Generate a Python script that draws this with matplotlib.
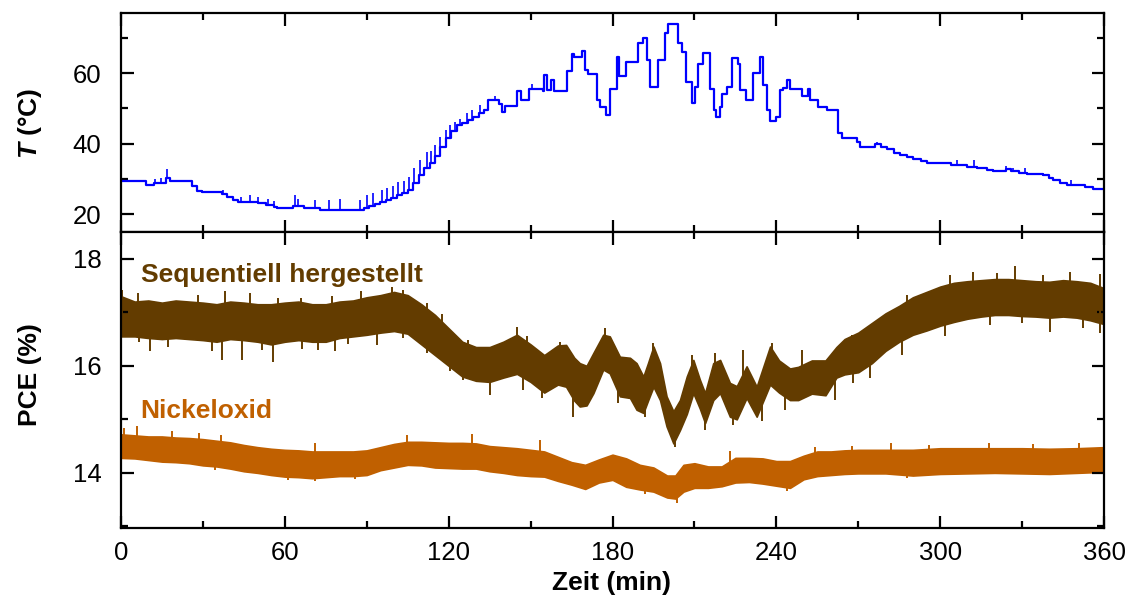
import numpy as np
import matplotlib
matplotlib.use("Agg")
import matplotlib.pyplot as plt
from matplotlib.ticker import MultipleLocator

plt.rcParams['font.family'] = ['Liberation Sans', 'DejaVu Sans']
plt.rcParams['mathtext.fontset'] = 'custom'
plt.rcParams['mathtext.bfit'] = 'Liberation Sans:italic:bold'
plt.rcParams['mathtext.bf'] = 'Liberation Sans:bold'

# ---- temperature trace (stepped, minutes / °C) ----
temp_time = [0, 9, 12, 16.5, 18, 24, 26, 28, 29.5, 37, 39, 41, 43, 50, 53, 56, 57,
             63, 67, 73, 87, 89, 91, 93, 95, 97, 99, 101, 103, 105, 107, 109, 111,
             113, 115, 117, 119, 121, 123, 125, 127, 129, 131, 133, 134.5, 138.5,
             139.5, 140.5, 145, 146.5, 149.5, 154.5, 155, 156, 157.5, 158.5, 163.5,
             165, 166, 169, 170, 171, 174.5, 175.5, 177.5, 179, 181.5, 182.5, 185,
             189.3, 191, 192.5, 193.7, 196.7, 199.2, 200.3, 204, 205.3, 207, 209,
             210.2, 211.3, 213, 215.7, 217, 218, 219.4, 220, 221.8, 223.6, 226,
             226.7, 229, 231.5, 234, 235.2, 236.5, 237.7, 240, 241.3, 242.5, 243.8,
             245, 249.3, 251.7, 252.3, 255.4, 258.4, 262.5, 264, 269.4, 270.6, 276,
             278.5, 280.4, 283, 285.3, 288, 290, 293, 295, 300, 304, 307, 310,
             313.4, 317, 319.5, 324, 326, 329, 331.7, 335, 337.8, 340, 341.4, 344,
             346.3, 351.2, 353, 356, 360]
temp_value = [29.5, 28.3, 28.9, 30.4, 29.4, 29.4, 28.0, 26.6, 26.2, 25.8, 24.8, 24.0,
              23.4, 23.2, 22.6, 22.0, 21.7, 22.3, 21.8, 21.1, 21.1, 21.8, 22.4, 23.0,
              23.5, 24.0, 24.6, 25.4, 26.0, 27.0, 29.0, 31.0, 33.0, 34.4, 36.5, 39.0,
              41.5, 43.5, 45.2, 46.0, 46.7, 47.5, 48.8, 49.5, 52.3, 51.3, 49.0, 50.8,
              55.0, 52.5, 55.5, 55.0, 59.5, 55.3, 58.0, 55.0, 60.5, 65.5, 64.5, 66.3,
              60.8, 59.8, 52.5, 50.5, 48.0, 55.5, 64.5, 59.2, 63.2, 68.4, 69.8, 63.7,
              56.1, 63.7, 71.3, 74.0, 68.4, 66.0, 57.5, 51.4, 56.0, 62.7, 65.6, 55.6,
              49.5, 47.6, 50.4, 54.2, 56.0, 64.2, 62.7, 55.2, 52.3, 59.9, 64.6, 56.6,
              49.5, 46.5, 47.5, 55.2, 55.7, 58.0, 55.5, 53.5, 55.5, 52.5, 50.5, 49.5,
              43.0, 41.5, 40.5, 39.2, 39.8, 39.0, 38.6, 37.5, 36.7, 36.2, 35.8, 35.2,
              34.6, 34.4, 34.1, 33.9, 33.5, 33.0, 32.6, 32.3, 32.9, 32.2, 31.7, 31.5,
              31.3, 31.0, 30.4, 29.6, 28.8, 28.2, 28.2, 27.7, 27.1, 27.1]

# short heater overshoot spikes (time, peak °C)
spike_time = [12.5, 14.8, 16.8, 37.5, 44, 47.2, 50.3, 54, 56, 63.7, 65, 71, 76, 80.2,
              87.5, 90, 92.4, 95.5, 97.3, 99.7, 101.6, 103.5, 105.5, 107.2, 109.5,
              112, 113.5, 115, 117, 119, 120.5, 122.3, 124.2, 126.6, 128.5, 131.5,
              137, 150.5, 277, 306, 312.5, 324, 326.5, 331, 342.5, 348]
spike_peak = [30.0, 30.3, 32.8, 26.8, 25.0, 25.4, 24.8, 24.3, 23.8, 25.4, 24.4, 24.0,
              24.1, 24.4, 24.1, 25.5, 26.0, 26.8, 27.4, 28.0, 29.2, 29.5, 30.5, 33.0,
              35.3, 37.7, 38.0, 39.6, 41.9, 43.8, 45.2, 46.2, 47.1, 48.6, 49.5, 50.9,
              53.5, 57.0, 40.5, 35.3, 35.5, 33.6, 33.2, 33.2, 30.0, 29.8]

# ---- PCE (%) band of the two devices, upper / lower edge over time ----
seq_time = [0, 5, 10, 15, 20, 25, 30, 35, 40, 45, 50, 55, 60, 65, 70, 75, 80, 85, 90,
            95, 100, 105, 110, 115, 120, 125, 130, 135, 140, 145, 150, 155, 160, 163,
            166, 168, 170.5, 173, 176.6, 179, 182.7, 186.4, 188.8, 191.3, 193, 195,
            197.4, 199.8, 202.3, 204.7, 207.2, 209.6, 212, 213.9, 216.9, 219.4, 223,
            225.5, 229.1, 232.8, 237.7, 241, 245, 248, 253, 258, 262, 265,
            270, 275, 280, 285, 290, 295, 300, 305, 310, 315, 320, 325, 330, 335, 340,
            345, 350, 355, 360]
seq_upper = [17.30, 17.20, 17.22, 17.18, 17.22, 17.20, 17.18, 17.15, 17.20, 17.18,
             17.15, 17.15, 17.18, 17.20, 17.15, 17.15, 17.20, 17.22, 17.28, 17.32,
             17.38, 17.32, 17.15, 16.95, 16.70, 16.45, 16.35, 16.35, 16.45, 16.58,
             16.40, 16.20, 16.38, 16.39, 16.15, 16.05, 16.00, 16.24, 16.58, 16.55,
             16.17, 16.15, 16.05, 15.80, 16.05, 16.36, 16.05, 15.43, 15.15, 15.36,
             15.80, 16.11, 15.74, 15.49, 16.05, 16.11, 15.68, 15.62, 15.99, 15.61,
             16.36, 16.10, 15.95, 15.98, 16.10, 16.10, 16.35,
             16.50, 16.62, 16.80, 16.98, 17.12, 17.28, 17.38, 17.48, 17.55, 17.58,
             17.60, 17.62, 17.62, 17.60, 17.58, 17.57, 17.60, 17.58, 17.55, 17.45]
seq_lower = [16.55, 16.55, 16.52, 16.50, 16.52, 16.50, 16.48, 16.45, 16.50, 16.48,
             16.45, 16.40, 16.45, 16.48, 16.45, 16.45, 16.52, 16.55, 16.58, 16.62,
             16.65, 16.60, 16.40, 16.20, 16.00, 15.80, 15.72, 15.70, 15.78, 15.85,
             15.70, 15.50, 15.65, 15.61, 15.35, 15.24, 15.26, 15.49, 15.93, 15.86,
             15.43, 15.40, 15.18, 15.12, 15.35, 15.61, 15.36, 14.87, 14.55, 14.80,
             15.10, 15.49, 15.20, 14.93, 15.36, 15.49, 15.05, 15.00, 15.40, 15.05,
             15.65, 15.50, 15.36, 15.36, 15.48, 15.45, 15.78,
             15.84, 15.88, 16.05, 16.28, 16.45, 16.58, 16.66, 16.75, 16.82, 16.88,
             16.92, 16.95, 16.95, 16.93, 16.92, 16.90, 16.92, 16.90, 16.85, 16.78]
# isolated excursions beyond the dense band (time, PCE)
seq_spike_time = [0.2, 6.3, 28.3, 38, 47.2, 57.6, 66, 77.2, 88, 99.1, 103.4, 112,
                  117.4, 127.2, 144.9, 148.6, 160.8, 177.3, 195, 209, 217.5, 227.9,
                  238.3, 249.3, 267.6, 287.7, 303.6, 312.1, 320.7, 327.4, 337.8,
                  347.5, 358.5,
                  6.5, 10.6, 17.3, 33.2, 36.9, 44.2, 51.5, 55.8, 66.2, 72.3, 78.4,
                  83.2, 93.6, 103.4, 112, 120.5, 125.4, 135.1, 147.3, 154, 165.7,
                  170.5, 182.1, 191.9, 202.9, 213.9, 224.2, 234.6, 243.2, 261.5,
                  268.2, 274.3, 285.9, 301.8, 318.2, 329.9, 340.2, 352.4, 358.5]
seq_spike_value = [17.42, 17.36, 17.33, 17.39, 17.36, 17.27, 17.27, 17.30, 17.39,
                   17.47, 17.42, 17.17, 16.96, 16.49, 16.73, 16.55, 16.45, 16.70,
                   16.42, 16.20, 16.24, 16.30, 16.42, 16.30, 16.58, 17.33, 17.70,
                   17.76, 17.74, 17.86, 17.70, 17.76, 17.72,
                   16.45, 16.27, 16.36, 16.27, 16.11, 16.11, 16.30, 16.08, 16.32,
                   16.30, 16.27, 16.40, 16.39, 16.52, 16.24, 15.90, 15.74, 15.46,
                   15.55, 15.40, 15.05, 15.24, 15.30, 15.05, 14.49, 14.80, 14.90,
                   14.96, 15.18, 15.36, 15.68, 15.77, 16.21, 16.55, 16.77, 16.80,
                   16.64, 16.70, 16.61]

nio_time = [0, 5, 10, 15, 20, 25, 30, 35, 40, 45, 50, 55, 60, 65, 70, 75, 80, 85, 90,
            95, 100, 105, 110, 115, 120, 125, 130, 135, 140, 145, 150, 155, 160, 165,
            170, 175, 180, 185, 190, 195, 200, 203, 206, 210, 215, 220, 225, 230, 235,
            240, 245, 250, 255, 260, 265, 270, 280, 290, 300, 310, 320, 330, 340, 350,
            360]
nio_upper = [14.72, 14.70, 14.68, 14.68, 14.66, 14.65, 14.63, 14.60, 14.57, 14.52,
             14.48, 14.45, 14.43, 14.42, 14.40, 14.40, 14.40, 14.40, 14.42, 14.48,
             14.54, 14.58, 14.58, 14.57, 14.56, 14.56, 14.55, 14.50, 14.48, 14.46,
             14.43, 14.40, 14.30, 14.20, 14.15, 14.25, 14.34, 14.27, 14.15, 14.10,
             13.95, 13.95, 14.15, 14.18, 14.12, 14.12, 14.28, 14.28, 14.27, 14.22,
             14.22, 14.32, 14.40, 14.40, 14.42, 14.43, 14.43, 14.43, 14.46, 14.46,
             14.46, 14.46, 14.45, 14.46, 14.48]
nio_lower = [14.28, 14.27, 14.24, 14.21, 14.20, 14.18, 14.14, 14.12, 14.08, 14.03,
             14.00, 13.96, 13.93, 13.92, 13.90, 13.92, 13.94, 13.94, 13.96, 14.05,
             14.10, 14.15, 14.14, 14.10, 14.09, 14.08, 14.08, 14.03, 14.00, 13.96,
             13.94, 13.93, 13.85, 13.78, 13.70, 13.82, 13.87, 13.74, 13.69, 13.65,
             13.54, 13.52, 13.65, 13.72, 13.72, 13.75, 13.82, 13.83, 13.80, 13.76,
             13.72, 13.88, 13.94, 13.96, 13.98, 13.99, 13.99, 13.95, 13.98, 13.99,
             14.00, 13.99, 13.98, 14.00, 14.02]
nio_spike_time = [1, 5.7, 18.6, 28.7, 36.6, 71, 104.6, 128.4, 153.5, 223, 254.2,
                  267.6, 282, 296, 318, 334, 351,
                  34.4, 61.3, 71, 85.7, 191.9, 203.5, 244, 288]
nio_spike_value = [14.84, 14.87, 14.78, 14.74, 14.70, 14.55, 14.70, 14.73, 14.62,
                   14.40, 14.48, 14.50, 14.55, 14.52, 14.55, 14.53, 14.56,
                   14.06, 13.87, 13.85, 13.88, 13.61, 13.43, 13.66, 13.90]

BLUE = '#0000FF'
BROWN = '#633C00'
ORANGE = '#C06000'

fig = plt.figure(figsize=(11.28, 6.01), dpi=100)
left, right = 121 / 1128, 1104 / 1128
y_top, y_mid, y_bot = 1 - 13 / 601, 1 - 232 / 601, 1 - 528 / 601
ax_t = fig.add_axes([left, y_mid, right - left, y_top - y_mid])
ax_p = fig.add_axes([left, y_bot, right - left, y_mid - y_bot], sharex=ax_t)

# temperature
ax_t.step(temp_time, temp_value, where='post', color=BLUE, lw=1.6)
tt = np.asarray(temp_time)
tv = np.asarray(temp_value)
base = tv[np.searchsorted(tt, spike_time, side='right') - 1]
ax_t.vlines(spike_time, base, spike_peak, color=BLUE, lw=1.2)
ax_t.set_ylim(15, 77)
ax_t.yaxis.set_major_locator(MultipleLocator(20))
ax_t.yaxis.set_minor_locator(MultipleLocator(10))


def pce_band(ax, t, lo, hi, sp_t, sp_v, color):
    ax.fill_between(t, lo, hi, color=color, lw=1.2, edgecolor=color)
    mid = (np.interp(sp_t, t, lo) + np.interp(sp_t, t, hi)) / 2
    ax.vlines(sp_t, mid, sp_v, color=color, lw=1.4)


pce_band(ax_p, seq_time, seq_lower, seq_upper, seq_spike_time, seq_spike_value, BROWN)
pce_band(ax_p, nio_time, nio_lower, nio_upper, nio_spike_time, nio_spike_value, ORANGE)
ax_p.set_ylim(12.97, 18.5)
ax_p.yaxis.set_major_locator(MultipleLocator(2))
ax_p.yaxis.set_minor_locator(MultipleLocator(1))

ax_p.set_xlim(0, 360)
ax_p.xaxis.set_major_locator(MultipleLocator(60))
ax_p.xaxis.set_minor_locator(MultipleLocator(30))

for ax in (ax_t, ax_p):
    for s in ax.spines.values():
        s.set_linewidth(1.6)
    ax.tick_params(which='both', direction='in', top=True, right=True,
                   width=1.6, labelsize=18.5)
    ax.tick_params(which='major', length=9)
    ax.tick_params(which='minor', length=5)
    ax.tick_params(axis='y', pad=14)
    ax.tick_params(axis='x', pad=9)
ax_t.tick_params(labelbottom=False)

ax_p.text(0.02, 0.83, 'Sequentiell hergestellt', transform=ax_p.transAxes,
          color=BROWN, fontsize=19, fontweight='bold', va='baseline')
ax_p.text(0.02, 0.372, 'Nickeloxid', transform=ax_p.transAxes,
          color=ORANGE, fontsize=19, fontweight='bold', va='baseline')

fig.text(30 / 1128, 1 - 123 / 601, r'$\mathbfit{T}$ (°C)', rotation=90, ha='center',
         va='center', fontsize=19, fontweight='bold')
fig.text(30 / 1128, 1 - 375 / 601, 'PCE (%)', rotation=90, ha='center', va='center',
         fontsize=19, fontweight='bold')
fig.text(611 / 1128, 1 - 583 / 601, 'Zeit (min)', ha='center', va='center',
         fontsize=19, fontweight='bold')

fig.savefig('out.png', dpi=100)
